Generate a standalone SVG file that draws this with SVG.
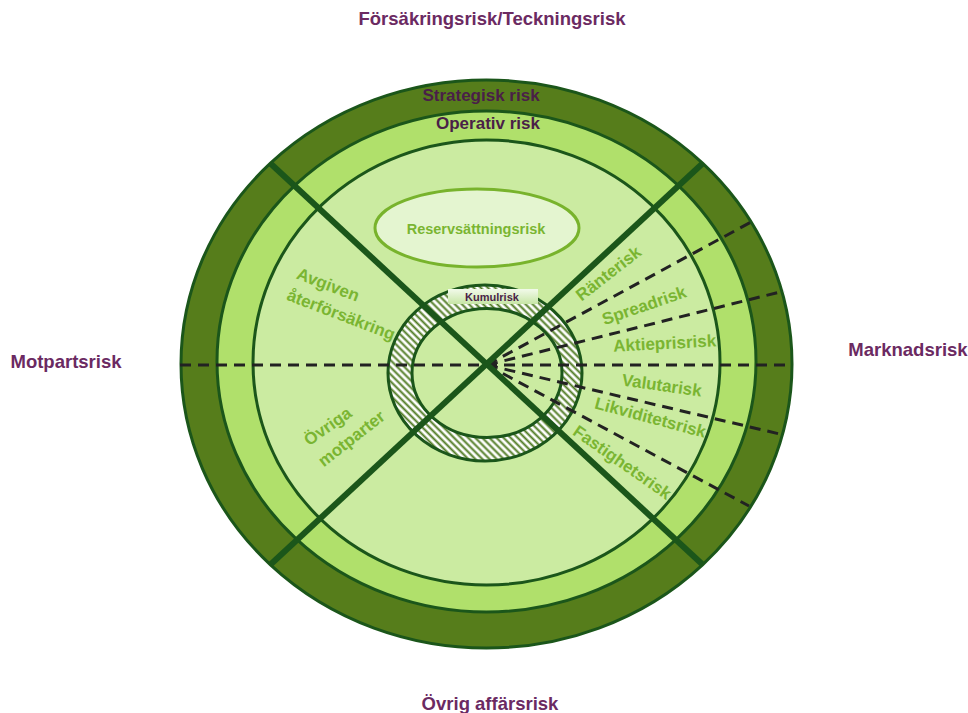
<svg xmlns="http://www.w3.org/2000/svg" width="968" height="713" viewBox="0 0 968 713">
<style>
.band{stroke:#1b561a;stroke-width:3}
.outerlbl{font-family:"Liberation Sans",Arial,sans-serif;font-weight:bold;font-size:18.5px;fill:#6b2a62;text-anchor:middle}
.ringlbl{font-family:"Liberation Sans",Arial,sans-serif;font-weight:bold;font-size:17px;fill:#4a1f48;text-anchor:middle}
.glbl{font-family:"Liberation Sans",Arial,sans-serif;font-weight:bold;font-size:17px;fill:#7ab532;text-anchor:middle}
.diag{stroke:#1b561a;stroke-width:6;fill:none}
.dash{stroke:#222;stroke-width:3;stroke-dasharray:11 7;fill:none}
</style>
<defs>
<pattern id="hatch" width="5" height="5" patternUnits="userSpaceOnUse" patternTransform="rotate(-45)">
<rect width="5" height="5" fill="#ffffff"/>
<line x1="1.5" y1="0" x2="1.5" y2="5" stroke="#4f7a22" stroke-width="2"/>
</pattern>
<linearGradient id="kg" x1="0" y1="0" x2="0" y2="1">
<stop offset="0" stop-color="#f2faea"/>
<stop offset="1" stop-color="#c7e6a6"/>
</linearGradient>
</defs>
<rect width="968" height="713" fill="#ffffff"/>
<g id="strategisk">
<ellipse class="band" cx="486.5" cy="364" rx="305.5" ry="284" fill="#567d1b"/>
<text class="ringlbl" x="481" y="101">Strategisk risk</text>
</g>
<g id="operativ">
<ellipse class="band" cx="486.5" cy="361.5" rx="269.5" ry="250.5" fill="#b0e06b"/>
<text class="ringlbl" x="488" y="129">Operativ risk</text>
</g>
<g id="inner">
<ellipse class="band" cx="486.5" cy="362.5" rx="233.5" ry="222.5" fill="#cbeba1"/>
</g>
<g id="reserv">
<ellipse cx="477" cy="228" rx="102" ry="39" fill="#e4f5d0" stroke="#78b32c" stroke-width="3"/>
<text class="glbl" style="font-size:14.5px" x="476" y="234">Reservsättningsrisk</text>
</g>
<g id="kumulring">
<ellipse cx="485" cy="373" rx="97" ry="88" fill="url(#hatch)" stroke="#1b561a" stroke-width="3"/>
<ellipse cx="487" cy="373" rx="75" ry="64.5" fill="#cbeba1" stroke="#1b561a" stroke-width="3"/>
</g>
<g id="connectors">
<line class="dash" x1="180" y1="365" x2="792" y2="365"/>
<line class="dash" x1="487" y1="365" x2="753" y2="221"/>
<line class="dash" x1="487" y1="365" x2="784" y2="291"/>
<line class="dash" x1="487" y1="365" x2="784" y2="435"/>
<line class="dash" x1="487" y1="365" x2="749" y2="506"/>
<line class="diag" x1="270" y1="163" x2="702" y2="564"/>
<line class="diag" x1="702" y1="164" x2="270" y2="565"/>
</g>
<g id="kumulrisk">
<rect x="448" y="289" width="90" height="15" fill="url(#kg)"/>
<text x="492" y="301" style="font-family:'Liberation Sans',Arial,sans-serif;font-weight:bold;font-size:11px;fill:#4a1f48" text-anchor="middle">Kumulrisk</text>
</g>
<g id="marknad-labels">
<text class="glbl" transform="translate(612,278) rotate(-38)">Ränterisk</text>
<text class="glbl" transform="translate(646,311) rotate(-19)">Spreadrisk</text>
<text class="glbl" transform="translate(665,349) rotate(-3)">Aktieprisrisk</text>
<text class="glbl" transform="translate(661,391) rotate(8)">Valutarisk</text>
<text class="glbl" transform="translate(649,423) rotate(15)">Likviditetsrisk</text>
<text class="glbl" transform="translate(619,467) rotate(35)">Fastighetsrisk</text>
</g>
<g id="motpart-labels">
<text class="glbl" transform="translate(326,290) rotate(21)">Avgiven</text>
<text class="glbl" transform="translate(339,320) rotate(21)">återförsäkring</text>
<text class="glbl" transform="translate(331,431) rotate(-35)">Övriga</text>
<text class="glbl" transform="translate(355,443) rotate(-38)">motparter</text>
</g>
<g id="outer-labels">
<text class="outerlbl" x="492" y="25">Försäkringsrisk/Teckningsrisk</text>
<text class="outerlbl" x="66" y="368">Motpartsrisk</text>
<text class="outerlbl" x="908" y="356">Marknadsrisk</text>
<text class="outerlbl" x="490" y="710">Övrig affärsrisk</text>
</g>
</svg>
